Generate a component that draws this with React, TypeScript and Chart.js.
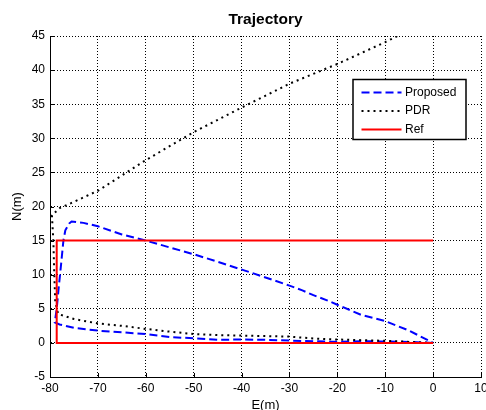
import React, { useEffect, useRef } from "react";
import { Chart, registerables } from "chart.js";

Chart.register(...registerables);

// ---------- data ----------
const chartTitle = "Trajectory";
const xAxisLabel = "E(m)";
const yAxisLabel = "N(m)";
const seriesNames = ["Proposed", "PDR", "Ref"];
const xTicks = [-80, -70, -60, -50, -40, -30, -20, -10, 0, 10];
const yTicks = [-5, 0, 5, 10, 15, 20, 25, 30, 35, 40, 45];

const proposedE = [0, -5, -10, -15, -20, -25, -30, -35, -40, -45, -50, -55, -60, -65, -70, -75, -78, -79, -78.6, -78.2, -77.9, -77.2, -76.8, -76, -75.5, -73, -70, -65, -60, -55, -50, -45, -39.3, -35, -30, -27.3, -25, -22, -20, -15, -10, -5, 0];
const proposedN = [0, 0.15, 0.2, 0.25, 0.15, 0.25, 0.34, 0.45, 0.5, 0.45, 0.68, 0.85, 1.3, 1.55, 1.8, 2.2, 2.7, 3.0, 5, 8, 10, 15, 16.5, 17.5, 17.8, 17.6, 17.1, 15.9, 15.0, 14.0, 13.0, 11.9, 10.6, 9.6, 8.4, 7.7, 7.0, 6.2, 5.6, 4.1, 3.2, 1.8, 0];

const pdrE = [0, -5, -10, -15, -20, -25, -30, -35, -40, -45, -50, -55, -60, -65, -70, -75, -78.3, -78.9, -79.1, -79.3, -79.6, -77.9, -76.2, -70, -60, -50, -40, -30, -20, -10, -4];
const pdrN = [0, 0.15, 0.3, 0.4, 0.5, 0.65, 0.92, 1.0, 1.07, 1.15, 1.3, 1.65, 2.05, 2.5, 2.85, 3.5, 4.25, 6, 10, 15, 18.7, 19.8, 20.3, 22.3, 26.8, 30.9, 34.5, 38.0, 40.9, 44.1, 46.2];

const refE = [0, -78.6, -78.6, 0];
const refN = [0, 0, 15, 15];

const FONT = "'Liberation Sans', Arial, sans-serif";

const toPoints = (xs: number[], ys: number[]) => xs.map((x, i) => ({ x, y: ys[i] }));

const whiteBg = {
  id: "whiteBg",
  beforeDraw(chart: any) {
    const { ctx, width, height } = chart;
    ctx.save();
    ctx.fillStyle = "#fff";
    ctx.fillRect(0, 0, width, height);
    ctx.restore();
  },
};

const innerTicks = {
  id: "innerTicks",
  afterDatasetsDraw(chart: any) {
    const { ctx, chartArea, scales } = chart;
    ctx.save();
    ctx.strokeStyle = "#000";
    ctx.lineWidth = 1;
    ctx.setLineDash([]);
    ctx.beginPath();
    xTicks.forEach((v) => {
      const px = Math.round(scales.x.getPixelForValue(v)) + 0.5;
      ctx.moveTo(px, chartArea.bottom);
      ctx.lineTo(px, chartArea.bottom - 4);
    });
    yTicks.forEach((v) => {
      const py = Math.round(scales.y.getPixelForValue(v)) + 0.5;
      ctx.moveTo(chartArea.left, py);
      ctx.lineTo(chartArea.left + 4, py);
    });
    ctx.stroke();
    ctx.restore();
  },
};

const boxLegend = {
  id: "boxLegend",
  afterDatasetsDraw(chart: any) {
    const { ctx, chartArea } = chart;
    const x0 = chartArea.right - 128;
    const y0 = chartArea.top + 43.5;
    const w = 113;
    const h = 60;
    ctx.save();
    ctx.fillStyle = "#fff";
    ctx.fillRect(x0, y0, w, h);
    ctx.strokeStyle = "#000";
    ctx.lineWidth = 1.5;
    ctx.setLineDash([]);
    ctx.strokeRect(x0, y0, w, h);
    chart.data.datasets.forEach((ds: any, i: number) => {
      const y = y0 + 13 + i * 18.5;
      ctx.strokeStyle = ds.borderColor;
      ctx.lineWidth = ds.borderWidth;
      ctx.setLineDash(ds.borderDash || []);
      ctx.beginPath();
      ctx.moveTo(x0 + 8.5, y);
      ctx.lineTo(x0 + 48.5, y);
      ctx.stroke();
      ctx.setLineDash([]);
      ctx.fillStyle = "#000";
      ctx.font = `12px ${FONT}`;
      ctx.textBaseline = "middle";
      ctx.textAlign = "left";
      ctx.fillText(ds.label, x0 + 52, y);
    });
    ctx.restore();
  },
};

export default function App() {
  const canvasRef = useRef<HTMLCanvasElement | null>(null);

  useEffect(() => {
    if (!canvasRef.current) return;
    const chart = new Chart(canvasRef.current, {
      type: "line",
      data: {
        datasets: [
          {
            label: seriesNames[0],
            data: toPoints(proposedE, proposedN),
            borderColor: "#0000ff",
            borderWidth: 2,
            borderDash: [8, 4],
            pointRadius: 0,
            fill: false,
            tension: 0,
            order: 3,
          },
          {
            label: seriesNames[1],
            data: toPoints(pdrE, pdrN),
            borderColor: "#000000",
            borderWidth: 2,
            borderDash: [2, 4],
            pointRadius: 0,
            fill: false,
            tension: 0,
            order: 2,
          },
          {
            label: seriesNames[2],
            data: toPoints(refE, refN),
            borderColor: "#ff0000",
            borderWidth: 2,
            pointRadius: 0,
            fill: false,
            tension: 0,
            order: 1,
          },
        ],
      },
      options: {
        animation: false,
        responsive: false,
        maintainAspectRatio: false,
        layout: { padding: { left: 0, right: 5, top: 0, bottom: 0 } },
        plugins: {
          legend: { display: false },
          tooltip: { enabled: false },
          title: {
            display: true,
            text: chartTitle,
            fullSize: false,
            color: "#000",
            font: { family: FONT, size: 15.5, weight: "bold", lineHeight: 1.2 },
            padding: { top: 10.2, bottom: 7.2 },
          },
        },
        scales: {
          x: {
            type: "linear",
            min: xTicks[0],
            max: xTicks[xTicks.length - 1],
            afterBuildTicks: (scale: any) => {
              scale.ticks = xTicks.map((v) => ({ value: v }));
            },
            afterFit: (scale: any) => {
              scale.height = 33;
              scale.paddingLeft = 0;
              scale.paddingRight = 0;
            },
            ticks: {
              color: "#000",
              font: { family: FONT, size: 12 },
              padding: 4,
              maxRotation: 0,
              autoSkip: false,
            },
            grid: { color: "#000", lineWidth: 1, drawTicks: false },
            border: { display: true, color: "#000", width: 1, dash: [1, 2] },
            title: {
              display: true,
              text: xAxisLabel,
              color: "#000",
              font: { family: FONT, size: 13, lineHeight: 1 },
              padding: { top: 0, bottom: -1.5 },
            },
          },
          y: {
            type: "linear",
            min: yTicks[0],
            max: yTicks[yTicks.length - 1],
            afterBuildTicks: (scale: any) => {
              scale.ticks = yTicks.map((v) => ({ value: v }));
            },
            afterFit: (scale: any) => {
              scale.width = 50;
              scale.paddingTop = 0;
              scale.paddingBottom = 0;
            },
            ticks: {
              color: "#000",
              font: { family: FONT, size: 12 },
              padding: 5,
              autoSkip: false,
            },
            grid: { color: "#000", lineWidth: 1, drawTicks: false },
            border: { display: true, color: "#000", width: 1, dash: [1, 2] },
            title: {
              display: true,
              text: yAxisLabel,
              color: "#000",
              font: { family: FONT, size: 13, lineHeight: 1 },
              padding: { top: 10.5, bottom: 0 },
            },
          },
        },
      } as any,
      plugins: [whiteBg, innerTicks, boxLegend],
    });
    return () => chart.destroy();
  }, []);

  return (
    <div style={{ position: "fixed", left: 0, top: 0, width: 486, height: 410, background: "#fff" }}>
      <canvas ref={canvasRef} width={486} height={410} style={{ width: 486, height: 410, display: "block" }} />
    </div>
  );
}
